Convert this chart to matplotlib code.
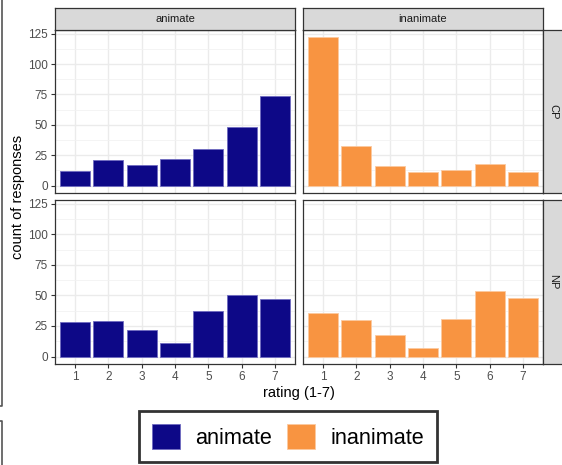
import matplotlib.pyplot as plt
from matplotlib.patches import Patch
from matplotlib.lines import Line2D

plt.rcParams["font.family"] = ["Liberation Sans", "DejaVu Sans"]

# data
ratings = [1, 2, 3, 4, 5, 6, 7]
animate_cp = [12, 21, 17, 22, 30, 48, 74]
inanimate_cp = [122, 33, 16, 11, 13, 18, 11]
animate_np = [28, 29, 22, 11, 37, 50, 47]
inanimate_np = [36, 30, 18, 7, 31, 54, 48]

columns = ["animate", "inanimate"]
rows = ["CP", "NP"]
colors = {"animate": "#0D0887", "inanimate": "#F89441"}
edges = {"animate": "#6F6BC0", "inanimate": "#FBC9A0"}
counts = {
    ("CP", "animate"): animate_cp,
    ("CP", "inanimate"): inanimate_cp,
    ("NP", "animate"): animate_np,
    ("NP", "inanimate"): inanimate_np,
}

W, H = 562, 465
fig = plt.figure(figsize=(W / 100, H / 100), dpi=100)


def box(x0, y0, x1, y1):
    return [x0 / W, 1 - y1 / H, (x1 - x0) / W, (y1 - y0) / H]


col_x = [(55, 295), (303, 543)]
row_y = [(30, 193), (200, 364)]
ymax = max(max(v) for v in counts.values())
pad = ymax * 0.05

for r, row in enumerate(rows):
    for c, col in enumerate(columns):
        x0, x1 = col_x[c]
        y0, y1 = row_y[r]
        ax = fig.add_axes(box(x0, y0, x1, y1))
        ax.bar(ratings, counts[(row, col)], width=0.9, color=colors[col],
               edgecolor=edges[col], linewidth=0.6, zorder=3)
        ax.set_xlim(0.4, 7.6)
        ax.set_ylim(-pad, ymax + pad)
        ax.set_xticks(ratings)
        ax.set_yticks([0, 25, 50, 75, 100, 125])
        ax.set_yticks([12.5, 37.5, 62.5, 87.5, 112.5], minor=True)
        ax.grid(True, which="major", color="#EBEBEB", linewidth=1.0, zorder=0)
        ax.grid(True, which="minor", axis="y", color="#F2F2F2", linewidth=0.6, zorder=0)
        ax.tick_params(which="minor", length=0)
        ax.tick_params(which="major", length=3, width=0.8, color="#333333",
                       labelcolor="#4D4D4D", labelsize=8.5, pad=2)
        if c != 0:
            ax.tick_params(axis="y", length=0, labelleft=False)
        if r != len(rows) - 1:
            ax.tick_params(axis="x", length=0, labelbottom=False)
        for s in ax.spines.values():
            s.set_color("#333333")
            s.set_linewidth(0.9)
            s.set_zorder(5)

        # top strips
        if r == 0:
            sax = fig.add_axes(box(x0, 8, x1, 30))
            sax.set_facecolor("#D9D9D9")
            sax.set_xticks([])
            sax.set_yticks([])
            for s in sax.spines.values():
                s.set_color("#333333")
                s.set_linewidth(0.9)
            sax.text(0.5, 0.5, col, ha="center", va="center", fontsize=8,
                     color="#1A1A1A", transform=sax.transAxes)
        # right strips
        if c == len(columns) - 1:
            sax = fig.add_axes(box(543, y0, 565, y1))
            sax.set_facecolor("#D9D9D9")
            sax.set_xticks([])
            sax.set_yticks([])
            for s in sax.spines.values():
                s.set_color("#333333")
                s.set_linewidth(0.9)
            sax.text(0.45, 0.5, row, ha="center", va="center", fontsize=8,
                     color="#1A1A1A", rotation=-90, transform=sax.transAxes)

fig.text(18 / W, 1 - 197 / H, "count of responses", rotation=90,
         ha="center", va="center", fontsize=10.5)
fig.text(299 / W, 1 - 393 / H, "rating (1-7)", ha="center", va="center",
         fontsize=10.5)

handles = [Patch(facecolor=colors[k], edgecolor=edges[k], linewidth=0.6) for k in columns]
leg = fig.legend(handles, columns, loc="center",
                 bbox_to_anchor=(288 / W, 1 - 436.5 / H), ncol=2,
                 fontsize=15.6, handlelength=1.3, handleheight=1.43,
                 handletextpad=0.7, columnspacing=0.7, borderpad=0.6,
                 fancybox=False, frameon=True)
leg.get_frame().set_edgecolor("black")
leg.get_frame().set_linewidth(2)

# border fragments visible at the left edge of the screenshot
fig.add_artist(Line2D([1.5 / W, 1.5 / W, 0], [1, 1 - 406 / H, 1 - 406 / H],
                      color="#555555", linewidth=1.2))
fig.add_artist(Line2D([0, 1.5 / W, 1.5 / W], [1 - 421 / H, 1 - 421 / H, 0],
                      color="#555555", linewidth=1.2))

fig.savefig("out.png", dpi=100)
